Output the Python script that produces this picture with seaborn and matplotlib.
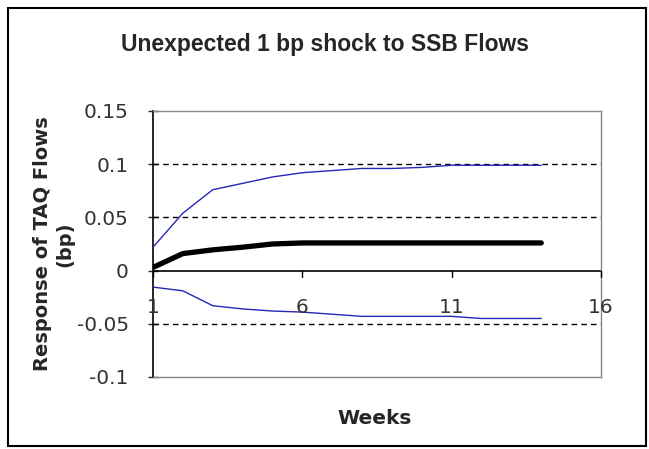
import matplotlib
matplotlib.use("Agg")
import matplotlib.pyplot as plt
import seaborn as sns
import pandas as pd
from matplotlib.patches import Rectangle

sns.set_style("white")
plt.rcParams['font.family'] = ['DejaVu Sans']

weeks = list(range(1, 15))
response = [0.003, 0.016, 0.0195, 0.022, 0.025, 0.026, 0.026, 0.026, 0.026, 0.026, 0.026, 0.026, 0.026, 0.026]
upper = [0.022, 0.054, 0.076, 0.082, 0.088, 0.092, 0.094, 0.096, 0.096, 0.097, 0.099, 0.099, 0.099, 0.099]
lower = [-0.0155, -0.019, -0.033, -0.036, -0.038, -0.039, -0.041, -0.043, -0.043, -0.043, -0.043, -0.045, -0.045, -0.045]

df = pd.DataFrame({"Weeks": weeks, "response": response, "upper": upper, "lower": lower})

fig = plt.figure(figsize=(6.49, 4.49), dpi=100)
ax = fig.add_axes([153 / 649, 1 - 377 / 449, (601 - 153) / 649, (377 - 111) / 449])

for y in [0.1, 0.05, -0.05]:
    ax.axhline(y, color="black", linestyle=(0, (4, 3)), linewidth=1, zorder=1)
ax.axhline(0, color="black", linewidth=1.2, zorder=2)

sns.lineplot(data=df, x="Weeks", y="upper", ax=ax, color="#2626b8", linewidth=1, zorder=3)
sns.lineplot(data=df, x="Weeks", y="lower", ax=ax, color="#2626b8", linewidth=1, zorder=3)
sns.lineplot(data=df, x="Weeks", y="response", ax=ax, color="black", linewidth=3.8, zorder=4)

ax.set_xlim(1, 16)
ax.set_ylim(-0.1, 0.15)
ax.set_yticks([-0.1, -0.05, 0, 0.05, 0.1, 0.15])
ax.set_yticklabels(["-0.1", "-0.05", "0", "0.05", "0.1", "0.15"], fontsize=14.5, color="#333333")
ax.set_xticks([])

# category axis crossing at zero
for xv, lab in [(1, "1"), (6, "6"), (11, "11"), (16, "16")]:
    ax.plot([xv, xv], [0, -0.006], color="black", linewidth=1, clip_on=False, zorder=5)
    ax.text(xv, -0.026, lab, ha="center", va="top", fontsize=14.5, color="#333333", zorder=6)

ax.tick_params(axis="y", which="both", left=True, length=7, width=1, direction="inout", pad=14)
for side in ["top", "right", "bottom"]:
    ax.spines[side].set_color("#888888")
    ax.spines[side].set_linewidth(1)
ax.spines["left"].set_color("black")
ax.spines["left"].set_linewidth(1.2)

ax.set_xlabel("")
ax.set_ylabel("")
fig.text(375 / 649, 1 - 418 / 449, "Weeks", ha="center", va="center", fontsize=14.5, fontweight="bold")
fig.text(54 / 649, 1 - 244 / 449, "Response of TAQ Flows\n(bp)", ha="center", va="center",
         rotation=90, fontsize=14, fontweight="bold", linespacing=1.2)
fig.text(325 / 649, 1 - 45 / 449, "Unexpected 1 bp shock to SSB Flows", ha="center", va="center",
         fontsize=16.5, fontweight="bold", family=["Liberation Sans", "DejaVu Sans"])

fig.patches.append(Rectangle((8 / 649, 1 - 446 / 449), 638 / 649, 438 / 449, transform=fig.transFigure,
                             fill=False, edgecolor="black", linewidth=1.5))

fig.savefig("out.png", dpi=100)
